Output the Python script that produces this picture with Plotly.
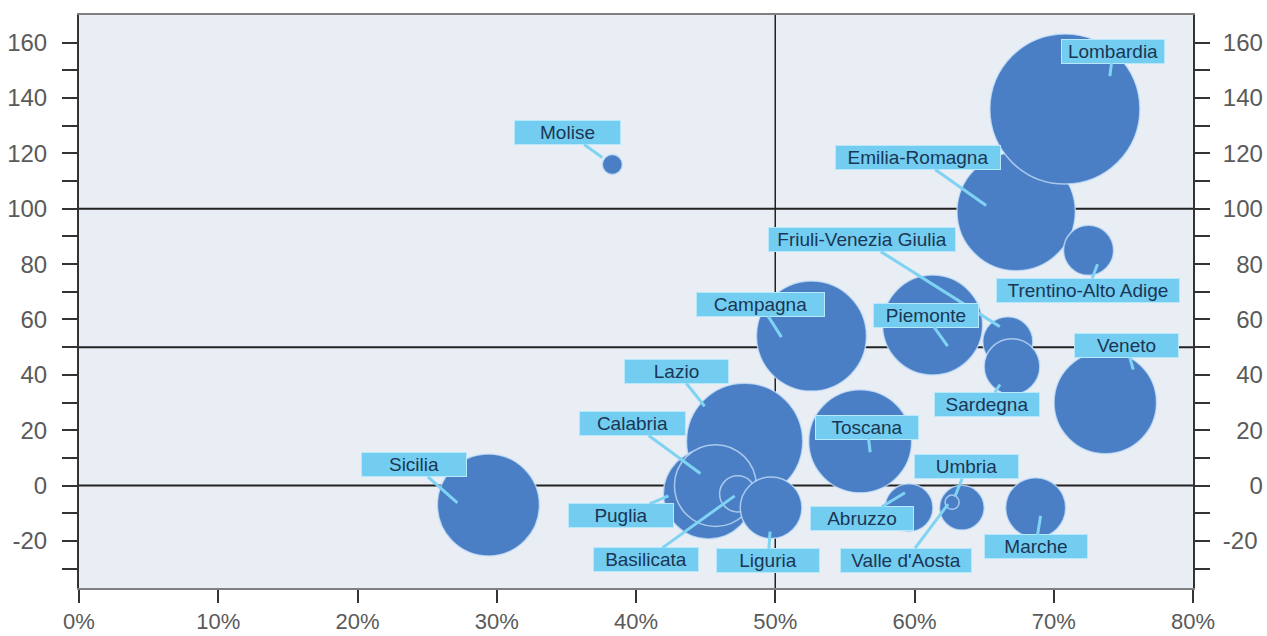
import plotly.graph_objects as go

# ---- data ----
regions = ["Emilia-Romagna", "Lombardia", "Trentino-Alto Adige", "Friuli-Venezia Giulia",
           "Sardegna", "Piemonte", "Campagna", "Veneto", "Lazio", "Toscana", "Puglia",
           "Calabria", "Basilicata", "Liguria", "Sicilia", "Abruzzo", "Umbria",
           "Valle d'Aosta", "Marche", "Molise"]
share_pct = [67.3, 70.8, 72.5, 66.7, 67.0, 61.3, 52.6, 73.7, 47.8, 56.1, 45.2,
             45.7, 47.3, 49.7, 29.4, 59.6, 63.4, 62.7, 68.7, 38.3]
index_val = [99, 136, 85, 52, 43, 58, 54, 30, 16, 16, -3,
             0, -3, -8, -7, -8, -8, -6, -8, 116]
weight = [140, 225, 25, 25, 31, 100, 121, 105, 135, 106, 81,
          67, 13, 38, 104, 23, 20, 2, 36, 4]

x_tickvals = [0, 10, 20, 30, 40, 50, 60, 70, 80]
x_ticktext = ["0%", "10%", "20%", "30%", "40%", "50%", "60%", "70%", "80%"]
y_tickvals = [-30, -20, -10, 0, 10, 20, 30, 40, 50, 60, 70, 80, 90, 100, 110, 120, 130, 140, 150, 160]
y_ticktext = ["", "-20", "", "0", "", "20", "", "40", "", "60", "", "80", "", "100", "", "120", "", "140", "", "160"]
ref_h = [0, 50, 100]
ref_v = [50]

# ---- label layout (pixel offsets: tip shift from bubble centre, label offset from tip, box width) ----
label_layout = {
    "Lombardia": (45, 33, 3, -25, 100),
    "Emilia-Romagna": (-30, 6, -68, -48, 162),
    "Trentino-Alto Adige": (9, -14, -10, 26, 180),
    "Friuli-Venezia Giulia": (-8, 15, -138, -87, 184),
    "Campagna": (-30, -1, -21, -33, 125),
    "Piemonte": (15, -21, -22, -31, 102),
    "Sardegna": (-12, -18, -13, 20, 102),
    "Veneto": (28, 33, -7, -24, 101),
    "Lazio": (-40, 35, -28, -35, 101),
    "Calabria": (-15, 12, -68, -50, 103),
    "Toscana": (10, -11, -3, -25, 100),
    "Sicilia": (-31, 2, -43, -38, 102),
    "Umbria": (-7, 11, 12, -30, 101),
    "Puglia": (-40, -2, -47, 20, 102),
    "Abruzzo": (-4, 15, -43, 26, 100),
    "Basilicata": (-3, -2, -89, 64, 102),
    "Liguria": (-1, -24, -2, 29, 100),
    "Valle d'Aosta": (-4, -2, -42, 56, 128),
    "Marche": (5, -8, -5, 31, 100),
    "Molise": (-10, 7, -35, -25, 103),
}

MAX_D = 150
sizeref = 2.0 * max(weight) / (MAX_D ** 2)

fig = go.Figure()
fig.add_trace(go.Scatter(
    x=share_pct, y=index_val, mode="markers", text=regions,
    marker=dict(size=weight, sizemode="area", sizeref=sizeref,
                color="#4a7fc6", opacity=1,
                line=dict(color="rgba(200,225,250,0.75)", width=1.5)),
    hoverinfo="text", showlegend=False,
))
# invisible trace for right-hand axis
fig.add_trace(go.Scatter(x=[share_pct[0]], y=[index_val[0]], yaxis="y2", mode="markers",
                         marker=dict(opacity=0), hoverinfo="skip", showlegend=False))

shapes = []
for v in ref_h:
    shapes.append(dict(type="line", xref="paper", yref="y", x0=0, x1=1, y0=v, y1=v,
                       line=dict(color="#222222", width=2), layer="below"))
for v in ref_v:
    shapes.append(dict(type="line", xref="x", yref="paper", x0=v, x1=v, y0=0, y1=1,
                       line=dict(color="#222222", width=1.5), layer="below"))

annotations = []
for name, xv, yv in zip(regions, share_pct, index_val):
    xs, ys, ax, ay, w = label_layout[name]
    annotations.append(dict(
        x=xv, y=yv, xref="x", yref="y", xshift=xs, yshift=ys,
        ax=ax, ay=ay, axref="pixel", ayref="pixel",
        text=name, showarrow=True, arrowhead=0, arrowwidth=3,
        arrowcolor="#7fd3f3", standoff=0,
        bgcolor="#72cdf1", bordercolor="#b8e8fb", borderwidth=1, borderpad=1,
        width=w, align="center",
        font=dict(family="Liberation Sans, Arial, sans-serif", size=19, color="#1b3654"),
    ))

FS = "\u2007"  # figure space, to right-align right-hand labels
y2_ticktext = [(FS * (3 - len(t)) + t) if t else "" for t in y_ticktext]

tickfont = dict(family="Liberation Sans, Arial, sans-serif", size=24, color="#5a5a5a")
xtickfont = dict(family="Liberation Sans, Arial, sans-serif", size=22, color="#5a5a5a")
yaxis_common = dict(range=[-37, 170], tickvals=y_tickvals,
                    ticks="outside", ticklen=15, tickwidth=2, tickcolor="#333333",
                    showgrid=False, zeroline=False, showline=True, linecolor="#333333",
                    linewidth=2, tickfont=tickfont, fixedrange=True, automargin=False)

fig.update_layout(
    width=1267, height=636,
    margin=dict(l=79, r=74, t=15, b=48),
    paper_bgcolor="white", plot_bgcolor="#e9edf4",
    xaxis=dict(range=[0, 80], tickvals=x_tickvals, ticktext=x_ticktext,
               ticks="outside", ticklen=13, tickwidth=2, tickcolor="#333333",
               showgrid=False, zeroline=False, showline=True, linecolor="#808080",
               linewidth=2, mirror=True, tickfont=xtickfont, ticklabelstandoff=0,
               automargin=False),
    yaxis=dict(**yaxis_common, ticktext=y_ticktext, side="left", ticklabelstandoff=10),
    yaxis2=dict(**yaxis_common, ticktext=y2_ticktext, side="right", overlaying="y",
                ticklabelstandoff=8),
    shapes=shapes, annotations=annotations,
)

fig.write_html("out.html")
